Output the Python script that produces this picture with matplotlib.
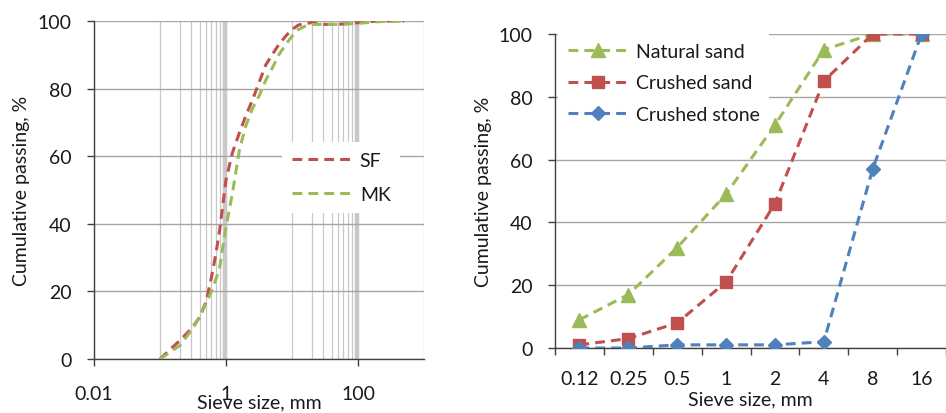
import matplotlib
matplotlib.use("Agg")
import matplotlib.pyplot as plt
from matplotlib.ticker import FixedLocator, NullFormatter, FixedFormatter

plt.rcParams['font.family'] = ['Lato', 'DejaVu Sans']

# ---- Left panel data (sieve size mm, cumulative passing %) ----
sieve_fine = [0.1, 0.2, 0.3, 0.4, 0.5, 0.6, 0.7, 0.8, 1.0, 1.25, 1.6, 2, 2.5, 3.2, 4, 5, 6.3, 8, 10, 12.5, 16, 20, 30, 50, 100, 200, 500]
sf_pass = [0, 5.5, 9, 12.4, 17, 24, 31, 38, 53, 61, 67, 72, 76.5, 82, 87, 90, 93, 95.5, 97.5, 98.8, 99.3, 99.5, 99, 99, 99.5, 100, 100]
mk_pass = [0, 4, 8.5, 12.5, 16.5, 20, 23.5, 27, 39, 49, 62, 69, 74, 78, 82.5, 86, 90, 93, 95.5, 97.5, 98.5, 99, 99, 99, 99.3, 99.8, 100]
left_xticks = [0.01, 1, 100]
left_xticklabels = ["0.01", "1", "100"]

# ---- Right panel data ----
categories = ["0.12", "0.25", "0.5", "1", "2", "4", "8", "16"]
natural_sand = [9, 17, 32, 49, 71, 95, 100, 100]
crushed_sand = [1, 3, 8, 21, 46, 85, 100, 100]
crushed_stone = [0, 0, 1, 1, 1, 2, 57, 100]
yticks = [0, 20, 40, 60, 80, 100]

GREEN = '#9BBB59'
RED = '#C0504D'
BLUE = '#4F81BD'
TXT = '#1a1a1a'
FS = 14

fig = plt.figure(figsize=(9.46, 4.14), dpi=100)
W, H = 946, 414

def ax_px(x0, x1, ytop, ybot):
    return fig.add_axes([x0 / W, (H - ybot) / H, (x1 - x0) / W, (ybot - ytop) / H])

LW = 2.2
dash = (3.2, 2.0)

# ================= Left panel =================
ax1 = ax_px(94, 424, 22, 360)
ax1.plot(sieve_fine, sf_pass, color=RED, lw=LW, dashes=dash, label='SF', zorder=3)
ax1.plot(sieve_fine, mk_pass, color=GREEN, lw=LW, dashes=dash, label='MK', zorder=3)
ax1.set_xscale('log')
ax1.set_xlim(0.01, 1000)
ax1.set_ylim(0, 100)
ax1.xaxis.set_major_locator(FixedLocator(left_xticks))
ax1.xaxis.set_major_formatter(FixedFormatter(left_xticklabels))
minor = []
for dec in (0.1, 10):
    minor += [dec * k for k in range(1, 10)]
    minor += [dec * 9 + dec * 0.1 * k for k in range(1, 10)]
minor.append(1000)
ax1.xaxis.set_minor_locator(FixedLocator(minor))
ax1.xaxis.set_minor_formatter(NullFormatter())
ax1.set_yticks(yticks)
ax1.grid(True, which='both', axis='x', color='#C8C8C8', lw=0.9)
ax1.grid(True, which='major', axis='y', color='#A6A6A6', lw=1.0)
ax1.set_axisbelow(True)
for s in ('top', 'right'):
    ax1.spines[s].set_visible(False)
for s in ('left', 'bottom'):
    ax1.spines[s].set_color('#404040')
    ax1.spines[s].set_linewidth(1.0)
ax1.tick_params(which='major', direction='out', length=5, width=1, color='#404040',
                labelsize=FS, labelcolor=TXT)
ax1.tick_params(axis='y', pad=11)
ax1.tick_params(which='minor', length=0)
ax1.tick_params(axis='x', pad=14)
ax1.set_ylabel('Cumulative passing, %', fontsize=FS, color=TXT)
ax1.yaxis.set_label_coords(-64 / 330, 0.5)
ax1.set_xlabel('Sieve size, mm', fontsize=FS, color=TXT)
ax1.xaxis.set_label_coords(0.5, -34 / 338)
leg1 = ax1.legend(loc='upper left', bbox_to_anchor=(282 / W, (H - 143) / H),
                  bbox_transform=fig.transFigure, frameon=True, fancybox=False,
                  edgecolor='none', facecolor='white', framealpha=1,
                  fontsize=FS, handlelength=3.2, handletextpad=0.3,
                  labelspacing=0.9, borderpad=0.5, borderaxespad=0)
for t in leg1.get_texts():
    t.set_color(TXT)

# ================= Right panel =================
ax2 = ax_px(555, 946, 35, 349)
xs = list(range(len(categories)))
ms = 9
ax2.plot(xs, natural_sand, color=GREEN, lw=LW, dashes=dash, marker='^', ms=ms + 1,
         label='Natural sand', zorder=3)
ax2.plot(xs, crushed_sand, color=RED, lw=LW, dashes=dash, marker='s', ms=ms,
         label='Crushed sand', zorder=4)
ax2.plot(xs, crushed_stone, color=BLUE, lw=LW, dashes=dash, marker='D', ms=ms - 1.5,
         label='Crushed stone', zorder=5)
ax2.set_xlim(-0.5, 7.32)
ax2.set_ylim(0, 100)
ax2.set_xticks(xs)
ax2.set_xticklabels(categories)
ax2.set_xticks([i - 0.5 for i in range(len(categories) + 1)], minor=True)
ax2.set_yticks(yticks)
ax2.grid(True, which='major', axis='y', color='#A6A6A6', lw=1.0)
ax2.set_axisbelow(True)
for s in ('top', 'right'):
    ax2.spines[s].set_visible(False)
for s in ('left', 'bottom'):
    ax2.spines[s].set_color('#404040')
    ax2.spines[s].set_linewidth(1.0)
ax2.tick_params(axis='x', which='major', length=0, labelsize=FS, labelcolor=TXT, pad=16)
ax2.tick_params(axis='x', which='minor', direction='out', length=5, width=1, color='#404040')
ax2.tick_params(axis='y', which='major', direction='out', length=5, width=1, color='#404040',
                labelsize=FS, labelcolor=TXT, pad=11)
ax2.set_ylabel('Cumulative passing, %', fontsize=FS, color=TXT)
ax2.yaxis.set_label_coords(-63 / 391, 0.5)
ax2.set_xlabel('Sieve size, mm', fontsize=FS, color=TXT)
ax2.xaxis.set_label_coords(0.5, -42 / 314)
leg2 = ax2.legend(loc='upper left', bbox_to_anchor=(558 / W, (H - 34) / H),
                  bbox_transform=fig.transFigure, frameon=True, fancybox=False,
                  edgecolor='none', facecolor='white', framealpha=1,
                  fontsize=FS, handlelength=3.1, handletextpad=0.4,
                  labelspacing=0.75, borderpad=0.5, borderaxespad=0)
for t in leg2.get_texts():
    t.set_color(TXT)

fig.savefig('out.png', dpi=100)
